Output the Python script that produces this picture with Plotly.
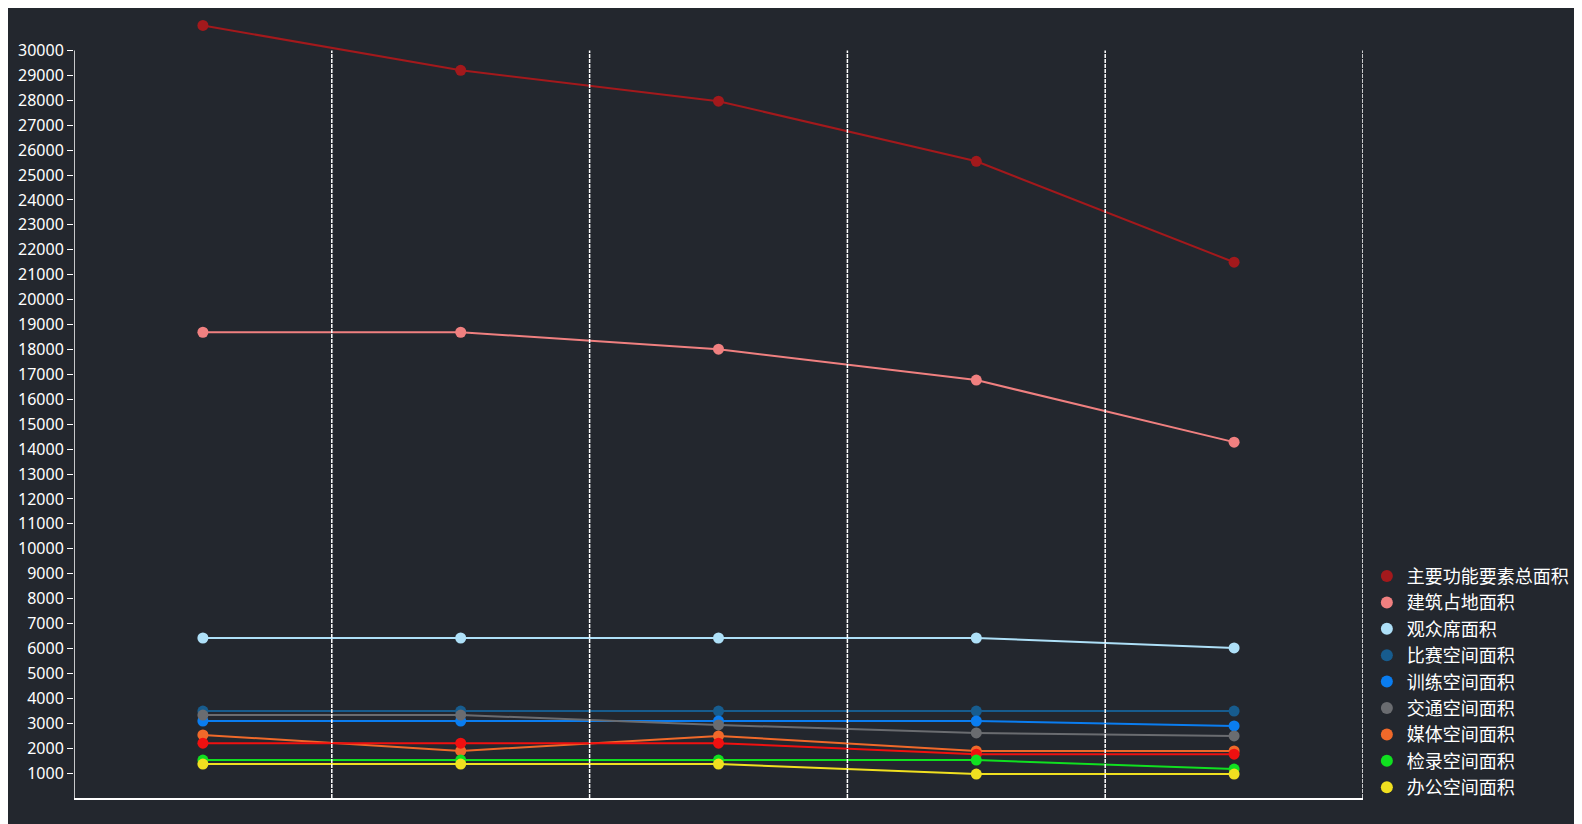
import plotly.graph_objects as go

categories = ["方案1", "方案2", "方案3", "方案4", "方案5"]
names = ["主要功能要素总面积", "建筑占地面积", "观众席面积", "比赛空间面积", "训练空间面积",
         "交通空间面积", "媒体空间面积", "其他面积", "检录空间面积", "办公空间面积"]
values = [
    [31000, 29200, 27960, 25550, 21500],
    [18690, 18690, 18010, 16770, 14280],
    [6420, 6420, 6420, 6420, 6020],
    [3490, 3490, 3490, 3490, 3490],
    [3090, 3090, 3090, 3090, 2890],
    [3330, 3330, 2930, 2610, 2490],
    [2530, 1890, 2490, 1890, 1890],
    [2200, 2200, 2200, 1760, 1760],
    [1520, 1520, 1520, 1520, 1160],
    [1360, 1360, 1360, 960, 960],
]
colors = ["#a3191c", "#f08080", "#aee0f8", "#175c8e", "#0a7df0",
          "#6a6c70", "#f0692a", "#f01010", "#10e020", "#f0e020"]
show = [True, True, True, True, True, True, True, False, True, True]
yticks = list(range(1000, 30001, 1000))

fig = go.Figure()
for n, v, c, s in zip(names, values, colors, show):
    fig.add_trace(go.Scatter(x=categories, y=v, name=n, mode="lines+markers",
                             line=dict(color=c, width=2), marker=dict(color=c, size=11),
                             showlegend=False))
    if s:
        fig.add_trace(go.Scatter(x=[None], y=[None], name=n, mode="markers",
                                 marker=dict(color=c, size=12), showlegend=True))

fig.add_shape(type="line", xref="x", yref="paper", x0=4.5, x1=4.5, y0=0, y1=30000 / 31300,
              line=dict(color="white", width=1.5, dash="4px,1px"))

fig.update_layout(
    width=1582, height=824, paper_bgcolor="#23272e", plot_bgcolor="#23272e",
    margin=dict(l=59, r=227, t=10, b=34),
    font=dict(family="Noto Sans CJK SC", color="white", size=17),
    legend=dict(x=1.003, y=-0.01, yanchor="bottom", xanchor="left", font=dict(size=18),
                bgcolor="rgba(0,0,0,0)", tracegroupgap=0),
    xaxis=dict(type="category", tickson="boundaries", showticklabels=False, ticks="",
               showgrid=False, showline=True, linecolor="white", linewidth=1.5,
               range=[-0.5, 4.5], zeroline=False),
    yaxis=dict(range=[0, 31300], tickvals=yticks, ticktext=[str(t) for t in yticks],
               showgrid=False, showline=False,
               ticks="outside", ticklen=6, tickcolor="white", zeroline=False,
               tickfont=dict(size=16, family="Noto Sans")),
)
for xb in [-0.5, 0.5, 1.5, 2.5, 3.5]:
    fig.add_shape(type="line", xref="x", yref="paper", x0=xb, x1=xb, y0=0, y1=30000 / 31300,
                  line=dict(color="white", width=1.5 if xb > -0.4 else 1.5,
                            dash="solid" if xb < 0 else "4px,1px"))
fig.write_html("out.html")
